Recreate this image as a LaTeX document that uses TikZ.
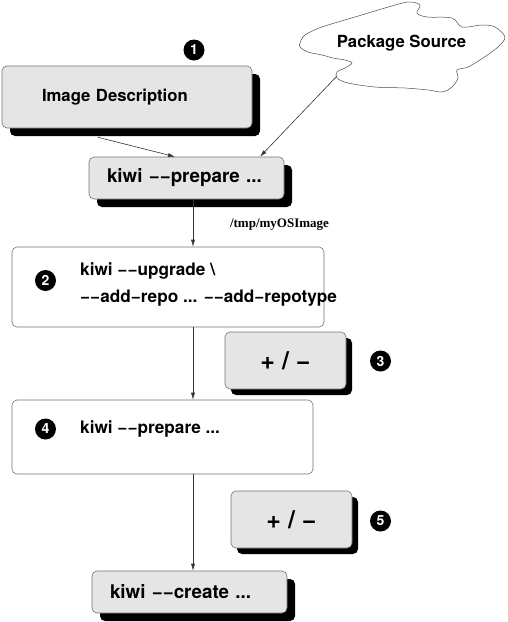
\documentclass[tikz,border=0pt]{standalone}
\usepackage{fontspec}
\setmainfont{TeX Gyre Heros}
\newfontfamily\timesfont{Liberation Serif}
\usetikzlibrary{arrows.meta, positioning, shadows, calc}
\newcommand{\kmin}{−}
\newcommand{\kdash}{\kmin\kmin}

\begin{document}
\begin{tikzpicture}[x=1pt, y=-1pt,
  graybox/.style={rectangle, draw=black!55, fill=black!10, rounded corners=5pt, line width=0.6pt,
    drop shadow={shadow xshift=#1, shadow yshift=-#1, fill=black, opacity=1},
    align=left, inner ysep=0pt, font=\fontsize{18.8}{22}\selectfont\bfseries},
  graybox/.default=8pt,
  stepframe/.style={rectangle, draw=black!55, fill=white, rounded corners=5pt, line width=0.6pt, inner sep=0pt},
  steptext/.style={anchor=west, align=left, inner sep=0pt, font=\fontsize{17.2}{27}\selectfont\bfseries},
  badge/.style={circle, fill=black, text=white, minimum size=21pt, inner sep=0pt,
    font=\fontsize{14}{14}\selectfont\bfseries},
  pmtext/.style={font=\fontsize{25}{25}\selectfont\bfseries, align=center},
  cloudline/.style={draw=black!70, line width=0.5pt},
  arr/.style={-{Latex[length=7pt, width=4pt]}, line width=0.6pt, draw=black!80}
]
  \useasboundingbox (0,0) rectangle (507,622);

  \draw[cloudline] plot[smooth cycle, tension=0.55] coordinates {
    (300,43) (305,35) (322,27) (355,17) (385,8) (408,2) (420,5) (417,13) (427,17)
    (452,18) (462,27) (482,25) (495,27) (505,37) (498,47) (483,58) (468,67) (457,70)
    (458,78) (452,87) (442,92) (428,90) (405,88) (375,87) (348,83) (337,78) (337,72)
    (345,68) (352,63) (345,60) (333,58) (322,55) (308,52) (300,47)};
  \node[font=\fontsize{16.7}{20}\selectfont\bfseries] (src) at (401.5,43) {Package Source};
  \coordinate (srctip) at (337,76);
  \coordinate (spine)  at (193,0);

  \node[graybox, text width=170pt, inner xsep=40pt, minimum height=62pt,
    font=\fontsize{16.7}{20}\selectfont\bfseries] (desc) at (127,97) {Image Description};
  \node[graybox, text width=159pt, inner xsep=18pt, minimum height=42pt] (prep1) at (186.5,178) {kiwi \kdash prepare ...};
  \node[stepframe, minimum width=312pt, minimum height=80pt] (upg)   at (168,287)   {};
  \node[graybox=6pt, pmtext, minimum width=121pt, minimum height=57pt] (mod1) at (285.5,360.5) {+ / \kmin};
  \node[stepframe, minimum width=301pt, minimum height=74pt] (prep2) at (162.5,437) {};
  \node[graybox=6pt, pmtext, minimum width=121pt, minimum height=57pt] (mod2) at (291.5,519.5) {+ / \kmin};
  \node[graybox, text width=159pt, inner xsep=18pt, minimum height=42pt] (create) at (189.5,592) {kiwi \kdash create ...};

  \node[steptext] (upgtxt)   at (80,284.5) {kiwi \kdash upgrade \textbackslash\\ \kdash add\kmin repo ... \kdash add\kmin repotype};
  \node[steptext] (prep2txt) at (80,429)   {kiwi \kdash prepare ...};
  \node[font=\timesfont\bfseries\fontsize{13}{15}\selectfont] (tmplbl) at (279.5,225) {/tmp/myOSImage};

  \node[badge] (n1) at (194,50)    {1};
  \node[badge] (n2) at (45.5,280.5) {2};
  \node[badge] (n3) at (380.5,361) {3};
  \node[badge] (n4) at (45.5,429)  {4};
  \node[badge] (n5) at (380.5,521) {5};

  \draw[arr] ($(desc.south)+(-29,9)$) -- ($(prep1.north)+(-11.5,0)$);
  \draw[arr] (srctip) -- ($(prep1.north)+(73.5,0)$);
  \draw[arr] (prep1.south -| spine) -- (upg.north -| spine);
  \draw[arr] (upg.south -| spine)   -- (prep2.north -| spine);
  \draw[arr] (prep2.south -| spine) -- (create.north -| spine);
\end{tikzpicture}
\end{document}
